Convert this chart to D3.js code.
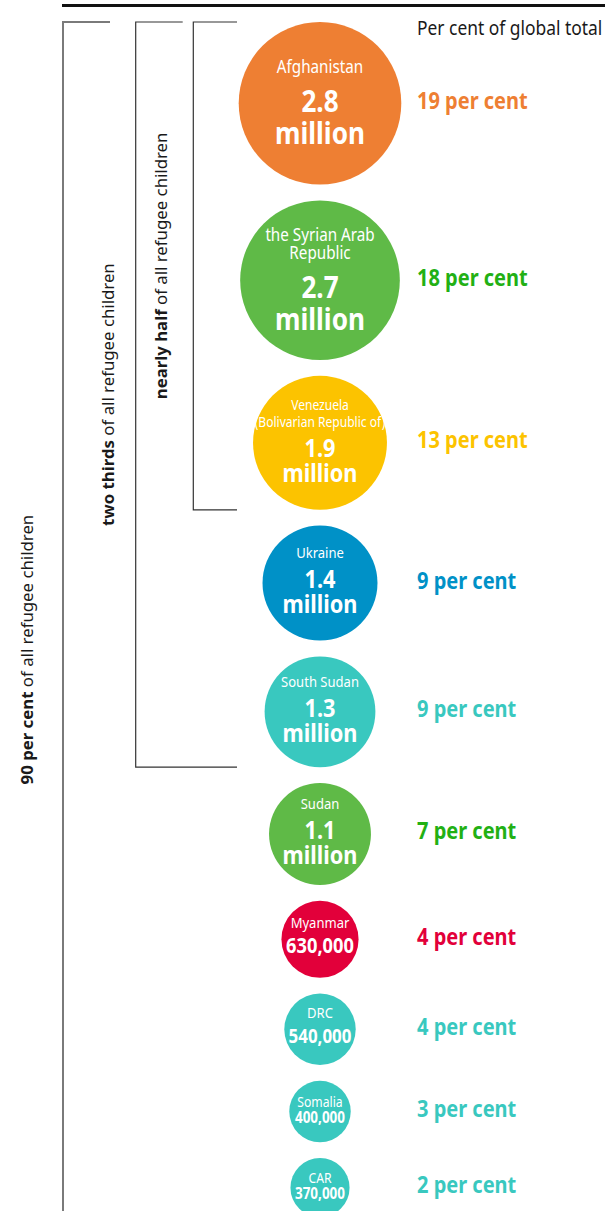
<!DOCTYPE html>
<html>
<head>
<meta charset="utf-8">
<script src="https://cdn.jsdelivr.net/npm/d3@7"></script>
<style>
  html, body { margin: 0; padding: 0; background: #fff; }
  svg { display: block; }
</style>
</head>
<body>
<svg id="chart" width="605" height="1211"></svg>
<script>
// ---- data ----------------------------------------------------------------
const countries = ["Afghanistan", "Syria", "Venezuela", "Ukraine", "South Sudan",
                   "Sudan", "Myanmar", "DRC", "Somalia", "CAR"];
const nameLines = [
  ["Afghanistan"],
  ["the Syrian Arab", "Republic"],
  ["Venezuela", "(Bolivarian Republic of)"],
  ["Ukraine"],
  ["South Sudan"],
  ["Sudan"],
  ["Myanmar"],
  ["DRC"],
  ["Somalia"],
  ["CAR"]
];
const refugeeChildren = [2800000, 2700000, 1900000, 1400000, 1300000,
                         1100000, 630000, 540000, 400000, 370000];
const shareOfGlobal = [19, 18, 13, 9, 9, 7, 4, 4, 3, 2];

// cumulative groupings shown by the brackets on the left
const groupBold = ["nearly half", "two thirds", "90 per cent"];
const groupRest = " of all refugee children";
const groupLastIndex = [2, 4, 9];

const headerText = "Per cent of global total";

// ---- styles --------------------------------------------------------------
const FONT = "'Noto Sans', 'Open Sans', sans-serif";
const CONDENSE = 0.87;           // horizontal squeeze for a condensed face
const TEXT_DARK = "#1a1a1a";

const circleColor = d3.scaleOrdinal(countries, [
  "#ee7f33", "#5fba47", "#fcc300", "#0091c7", "#39c8bf",
  "#5fba47", "#e2003a", "#39c8bf", "#39c8bf", "#39c8bf"
]);
const shareColor = d3.scaleOrdinal(countries, [
  "#ee7f33", "#22b014", "#fcc300", "#0091c7", "#39c8bf",
  "#22b014", "#e2003a", "#39c8bf", "#39c8bf", "#39c8bf"
]);

// text sizing inside circles, picked by circle radius
const textTiers = [
  { minR: 75, nameSize: 17.5, nameLH: 17.8, gap: 39,   valueSize: 30,   valueLH: 32, shift: -1 },
  { minR: 45, nameSize: 15,   nameLH: 16.7, gap: 30,   valueSize: 25,   valueLH: 25, shift: -2.5 },
  { minR: 33, nameSize: 15,   nameLH: 16,   gap: 24.5, valueSize: 21,   valueLH: 21, shift: -4 },
  { minR: 0,  nameSize: 14,   nameLH: 15,   gap: 16.5, valueSize: 15.5, valueLH: 16, shift: -1.5 }
];

// ---- layout --------------------------------------------------------------
const svg = d3.select("#chart");
const W = 605;
const cx = 320;
const firstTop = 22;
const rowGap = 15.8;
const shareX = 417;

const radius = d3.scaleSqrt().domain([0, d3.max(refugeeChildren)]).range([0, 81.3]);

let cursor = firstTop;
const rows = countries.map((c, i) => {
  const r = radius(refugeeChildren[i]);
  const cy = cursor + r;
  cursor += 2 * r + rowGap;
  return { country: c, i, r, cy, value: refugeeChildren[i], share: shareOfGlobal[i], names: nameLines[i] };
});

function valueLines(v) {
  if (v >= 1e6) return [d3.format(".1f")(v / 1e6), "million"];
  return [d3.format(",")(v)];
}

// ---- top rule --------------------------------------------------------------
svg.append("line")
  .attr("x1", 62).attr("x2", W)
  .attr("y1", 5.5).attr("y2", 5.5)
  .attr("stroke", "#111").attr("stroke-width", 3);

// ---- header ----------------------------------------------------------------
svg.append("text")
  .attr("transform", `translate(${shareX},35) scale(${CONDENSE},1)`)
  .attr("font-family", FONT).attr("font-size", 20)
  .attr("fill", TEXT_DARK)
  .text(headerText);

// ---- brackets ----------------------------------------------------------------
const bracketStyle = [
  { x: 193.3, labelX: 166.5, tick: 44, stroke: "#333", width: 1.2, tail: 0 },
  { x: 135.7, labelX: 113.5, tick: 47, stroke: "#333", width: 1.2, tail: 0 },
  { x: 63,    labelX: 33,    tick: 47, stroke: "#7a7a7a", width: 2, tail: 60 }
];
const bracketRight = 237;

groupLastIndex.forEach((last, g) => {
  const st = bracketStyle[g];
  const y0 = rows[0].cy - rows[0].r;
  const y1 = rows[last].cy + rows[last].r + st.tail;
  const path = d3.path();
  path.moveTo(Math.min(st.x + st.tick, bracketRight), y0);
  path.lineTo(st.x, y0);
  path.lineTo(st.x, y1);
  if (st.tail === 0) path.lineTo(bracketRight, y1);
  svg.append("path")
    .attr("d", path.toString())
    .attr("fill", "none")
    .attr("stroke", st.stroke)
    .attr("stroke-width", st.width);

  const lbl = svg.append("text")
    .attr("transform", `translate(${st.labelX},${(y0 + y1) / 2}) rotate(-90)`)
    .attr("text-anchor", "middle")
    .attr("font-family", FONT).attr("font-size", 16.8)
    .attr("fill", TEXT_DARK);
  lbl.append("tspan").attr("font-weight", 700).text(groupBold[g]);
  lbl.append("tspan").attr("font-weight", 400).text(groupRest);
});

// ---- circles ---------------------------------------------------------------
const rowG = svg.append("g").selectAll("g.row")
  .data(rows).join("g").attr("class", "row");

rowG.append("circle")
  .attr("cx", cx).attr("cy", d => d.cy).attr("r", d => d.r)
  .attr("fill", d => circleColor(d.country));

rowG.each(function (d) {
  const g = d3.select(this);
  const tier = textTiers.find(t => d.r >= t.minR);
  const lines = [];
  let b = 0;
  d.names.forEach((t, k) => {
    if (k > 0) b += tier.nameLH;
    lines.push({ text: t, size: tier.nameSize, weight: 400, base: b, kind: "name" });
  });
  valueLines(d.value).forEach((t, k) => {
    b += k === 0 ? tier.gap : tier.valueLH;
    lines.push({ text: t, size: tier.valueSize, weight: 700, base: b, kind: "value" });
  });
  const blockTop = -tier.nameSize * 0.714;
  const blockBottom = b;
  const offset = d.cy + tier.shift - (blockTop + blockBottom) / 2;

  const texts = g.selectAll("text.in").data(lines).join("text")
    .attr("class", "in")
    .attr("transform", l => `translate(${cx},${offset + l.base}) scale(${CONDENSE},1)`)
    .attr("text-anchor", "middle")
    .attr("font-family", FONT)
    .attr("font-size", l => l.size)
    .attr("font-weight", l => l.weight)
    .attr("fill", "#fff")
    .text(l => l.text);

  // shrink name lines together if any of them overruns the circle's chord
  let nameFactor = 1;
  texts.filter(l => l.kind === "name").each(function (l) {
    const w = this.getComputedTextLength() * CONDENSE;
    const yc = offset + l.base - l.size * 0.36 - d.cy;
    const chord = 2 * Math.sqrt(Math.max(0, d.r * d.r - yc * yc)) * 1.03;
    nameFactor = Math.min(nameFactor, chord / w);
  });
  if (nameFactor < 1) {
    texts.filter(l => l.kind === "name").attr("font-size", l => l.size * nameFactor);
  }
  // value lines stay within a fixed share of the diameter
  texts.filter(l => l.kind === "value").each(function (l) {
    const w = this.getComputedTextLength() * CONDENSE;
    const maxW = 0.88 * 2 * d.r;
    if (w > maxW) d3.select(this).attr("font-size", l.size * maxW / w);
  });
});

// ---- share labels ------------------------------------------------------------
rowG.append("text")
  .attr("transform", d => `translate(${shareX},${d.cy + 5.5}) scale(${CONDENSE},1)`)
  .attr("font-family", FONT).attr("font-size", 23).attr("font-weight", 700)
  .attr("fill", d => shareColor(d.country))
  .text(d => `${d.share} per cent`);
</script>
</body>
</html>
